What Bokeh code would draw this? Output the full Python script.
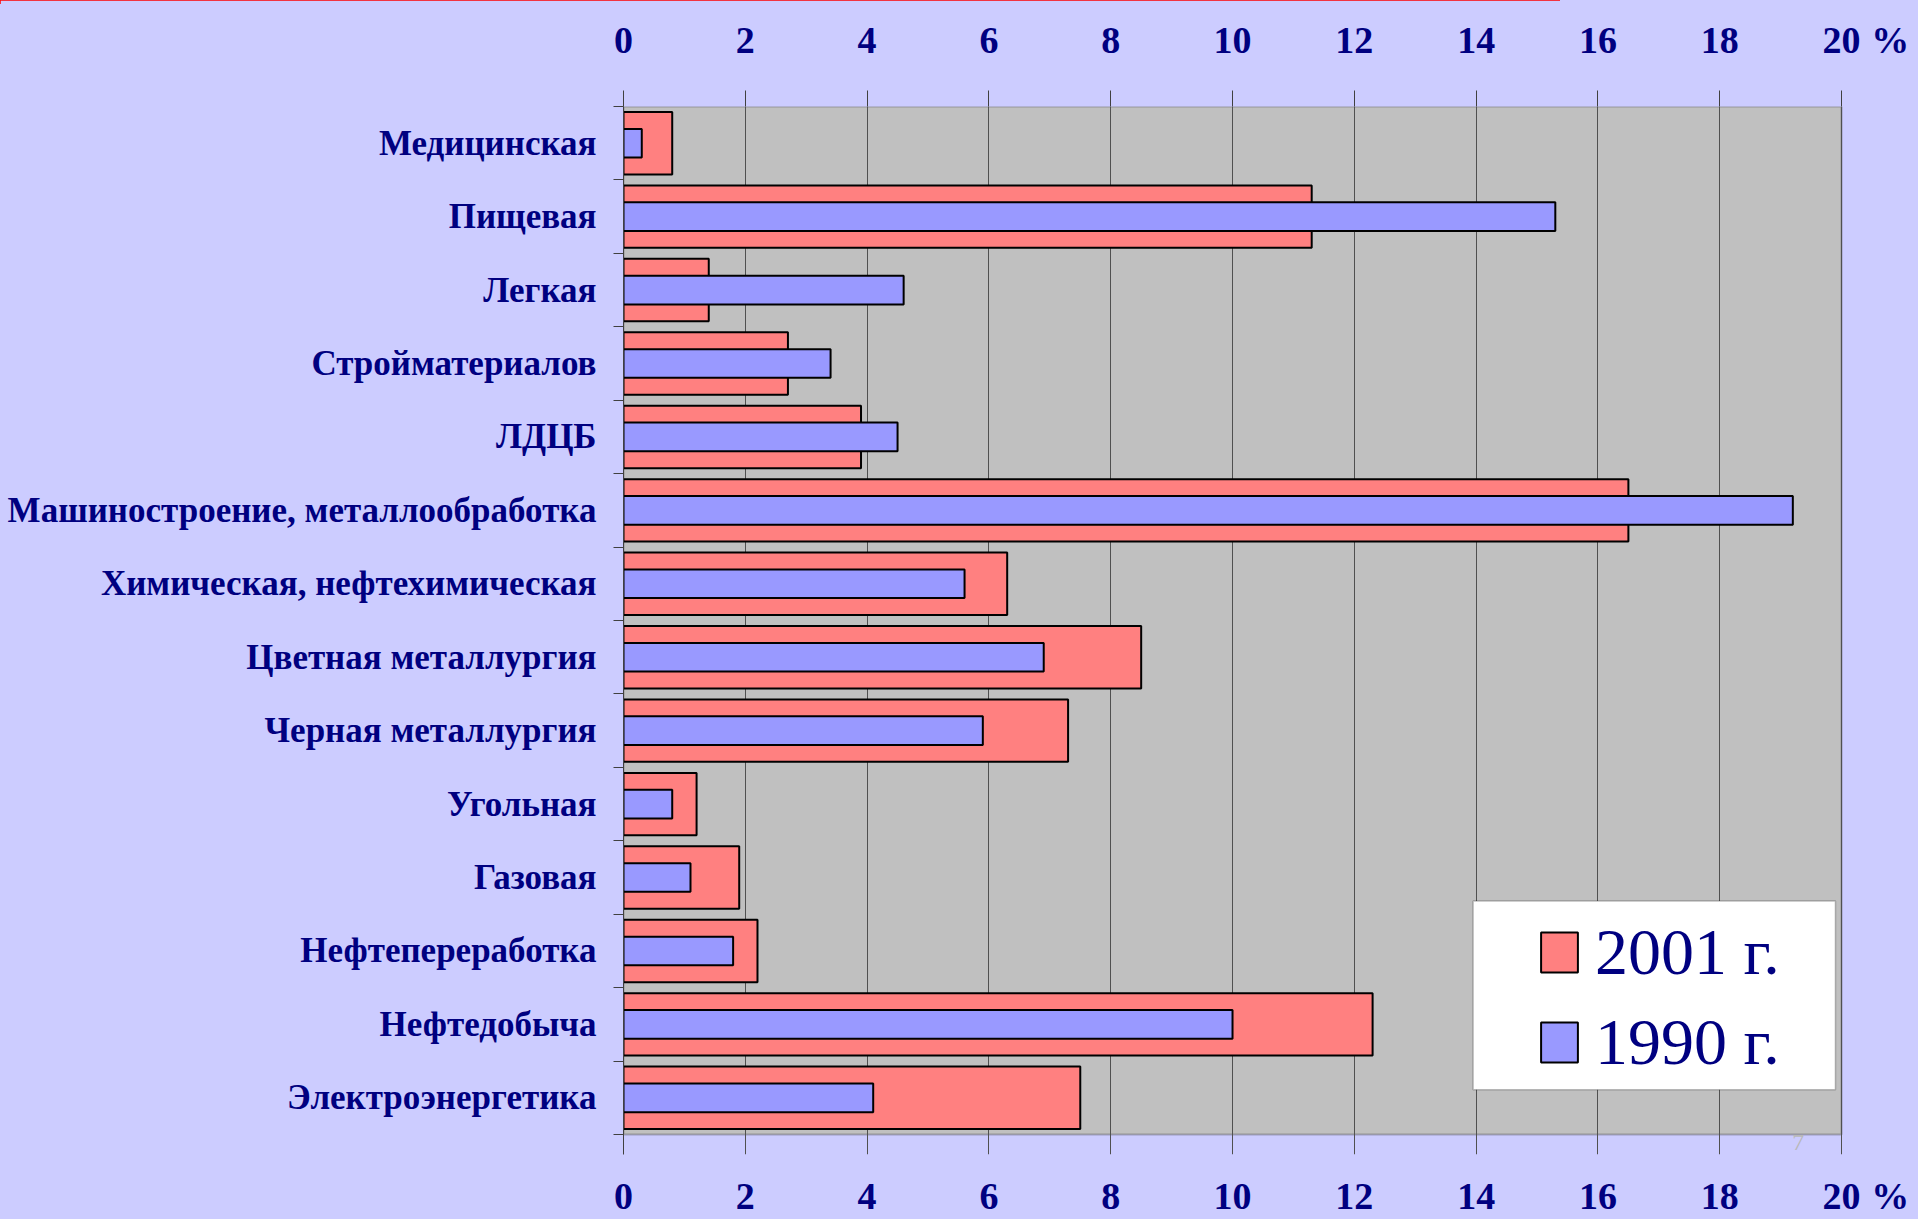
from bokeh.plotting import figure
from bokeh.models import (Range1d, FixedTicker, LinearAxis, Legend, LegendItem,
                          Label, BoxAnnotation, ColumnDataSource)
from bokeh.embed import file_html
from bokeh.resources import INLINE

# ---- data -------------------------------------------------------------
categories = [
    "Медицинская",
    "Пищевая",
    "Легкая",
    "Стройматериалов",
    "ЛДЦБ",
    "Машиностроение, металлообработка",
    "Химическая, нефтехимическая",
    "Цветная металлургия",
    "Черная металлургия",
    "Угольная",
    "Газовая",
    "Нефтепереработка",
    "Нефтедобыча",
    "Электроэнергетика",
]
values_2001 = [0.8, 11.3, 1.4, 2.7, 3.9, 16.5, 6.3, 8.5, 7.3, 1.2, 1.9, 2.2, 12.3, 7.5]
values_1990 = [0.3, 15.3, 4.6, 3.4, 4.5, 19.2, 5.6, 6.9, 5.9, 0.8, 1.1, 1.8, 10.0, 4.1]
x_ticks = [0, 2, 4, 6, 8, 10, 12, 14, 16, 18, 20]
series_labels = ["2001 г.", "1990 г."]
unit_label = "%"
page_number = "7"

# ---- styling ----------------------------------------------------------
NAVY = "#000080"
BG = "#CCCCFF"
PLOT_BG = "#C0C0C0"
C2001 = "#FF8080"
C1990 = "#9999FF"
SERIF = "Liberation Serif"
X_MAX = x_ticks[-1]
UNIT_POS = X_MAX + 0.8

n = len(categories)
ypos = [n - 1 - i for i in range(n)]
src = ColumnDataSource(dict(y=ypos, cat=categories, v2001=values_2001, v1990=values_1990))

p = figure(width=1918, height=1219, output_backend="svg", toolbar_location=None,
           x_range=Range1d(0, 21.05), y_range=Range1d(-0.772, n - 0.5),
           min_border_left=623, min_border_right=13, min_border_top=106,
           min_border_bottom=64)
p.background_fill_color = BG
p.border_fill_color = BG
p.outline_line_color = None

# grey plotting area (0..20) with its dark frame lines
area = BoxAnnotation(left=0, right=X_MAX, bottom=-0.5, top=n - 0.5,
                     fill_color=PLOT_BG, fill_alpha=1.0,
                     line_color="#303030", line_width=2, level="image")
p.add_layout(area)

r1 = p.hbar(y="y", left=0, right="v2001", height=0.85, source=src,
            fill_color=C2001, line_color="black", line_width=2)
r2 = p.hbar(y="y", left=0, right="v1990", height=0.39, source=src,
            fill_color=C1990, line_color="black", line_width=2)

# x axes (top and bottom); visible tick marks are "minor" ticks,
# labels belong to major ticks (incl. the % sign)
label_ticks = x_ticks + [UNIT_POS]
overrides = {t: str(t) for t in x_ticks}
overrides[UNIT_POS] = unit_label
xt = FixedTicker(ticks=label_ticks, minor_ticks=x_ticks)
top_axis = LinearAxis(ticker=xt)
p.add_layout(top_axis, "above")
bottom_axis = p.below[0]
for ax in (top_axis, bottom_axis):
    ax.ticker = xt
    ax.major_label_overrides = overrides
    ax.major_label_text_font = SERIF
    ax.major_label_text_font_style = "bold"
    ax.major_label_text_font_size = "38px"
    ax.major_label_text_color = NAVY
    ax.major_tick_out = 0
    ax.major_tick_in = 0
    ax.minor_tick_line_color = "#404040"
    ax.axis_line_color = None
top_axis.minor_tick_out = 16
top_axis.minor_tick_in = 0
top_axis.major_label_standoff = 30
bottom_axis.minor_tick_out = 0
bottom_axis.minor_tick_in = 0
bottom_axis.major_label_standoff = 20

# y axis: labels at centres, ticks at boundaries
yax = p.yaxis[0]
yax.ticker = FixedTicker(ticks=ypos, minor_ticks=[k - 0.5 for k in range(n + 1)])
yax.major_label_overrides = {y: c for y, c in zip(ypos, categories)}
yax.major_label_text_font = SERIF
yax.major_label_text_font_style = "bold"
yax.major_label_text_font_size = "35px"
yax.major_label_text_color = NAVY
yax.major_tick_out = 0
yax.major_tick_in = 0
yax.minor_tick_out = 10
yax.minor_tick_in = 0
yax.minor_tick_line_color = "#404040"
yax.axis_line_color = "#404040"
yax.axis_line_width = 1
yax.major_label_standoff = 17

p.xgrid.ticker = FixedTicker(ticks=x_ticks)
p.xgrid.grid_line_color = "#505050"
p.xgrid.grid_line_width = 1
p.ygrid.grid_line_color = None

p.add_layout(Label(x=19.29, y=-0.5, text=page_number, text_font=SERIF,
                   text_font_size="24px", text_color="#B8B8B8",
                   text_align="center", text_baseline="top"))

# legend
box = BoxAnnotation(left=13.95, right=19.9, bottom=0.11, top=2.68,
                    fill_color="white", fill_alpha=1.0,
                    line_color="#303030", line_width=1.5)
p.add_layout(box)
legend = Legend(items=[LegendItem(label=series_labels[0], renderers=[r1]),
                       LegendItem(label=series_labels[1], renderers=[r2])],
                location=(913, 72), background_fill_alpha=0.0,
                border_line_color=None, glyph_width=46, glyph_height=50,
                label_standoff=13, label_text_font=SERIF,
                label_text_font_size="66px", label_text_color=NAVY,
                padding=10, spacing=10, label_height=80, margin=0)
p.add_layout(legend, "center")

html = file_html(p, INLINE, title="chart")
css = ("<style>body{overflow:hidden; background: linear-gradient(#FF0000,#FF0000) 0 0 / 1560px 4px no-repeat, "
       + BG + ";}</style>")
html = html.replace("</head>", css + "</head>", 1)
open("out.html", "w").write(html)
